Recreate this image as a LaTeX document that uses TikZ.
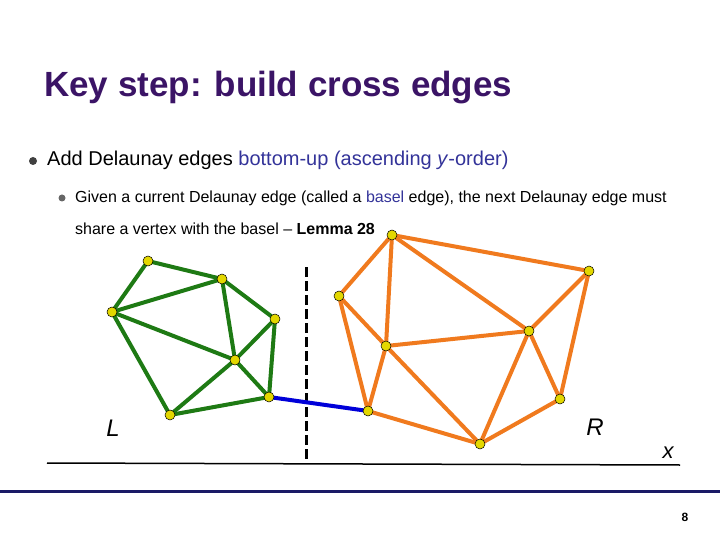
\documentclass[tikz,border=0pt]{standalone}
\usepackage{fontspec}
\setmainfont{Liberation Sans}
\begin{document}
\begin{tikzpicture}[x=1pt,y=-1pt,
 vtx/.style={circle,draw=black,fill=yellow!75!olive,inner sep=0pt,minimum size=10pt,line width=0.5pt},
 lab/.style={inner sep=0pt,anchor=west}]
\definecolor{ttl}{HTML}{3B1466}
\definecolor{navy}{HTML}{1A1A66}
\definecolor{bas}{HTML}{333399}
\definecolor{orng}{HTML}{F07A1E}
\definecolor{grn}{HTML}{1E7A14}
\tikzset{oe/.style={draw=orng,line width=4pt},ge/.style={draw=grn,line width=4pt}}
\useasboundingbox (0,0) rectangle (720,540);
\node[lab,text=ttl,font=\bfseries\fontsize{35}{40}\selectfont] (title) at (44,88) {Key step: build cross edges};
\node[circle,fill=black!75,inner sep=0pt,minimum size=8pt] (b1) at (33,161) {};
\node[lab,font=\fontsize{20}{24}\selectfont] (t1) at (47,160) {Add Delaunay edges \textcolor{bas}{bottom-up (ascending \textit{y}-order)}};
\node[circle,fill=black!60,inner sep=0pt,minimum size=7pt] (b2) at (62,198) {};
\node[lab,font=\fontsize{16}{19}\selectfont] (t2) at (75,198) {Given a current Delaunay edge (called a \textcolor{bas}{basel} edge), the next Delaunay edge must};
\node[lab,font=\fontsize{16}{19}\selectfont] (t3) at (75,229) {share a vertex with the basel -- \textbf{Lemma 28}};
\coordinate (ax1) at (47,463); \coordinate (ax2) at (680,465);
\draw[line width=1.5pt] (ax1) -- (ax2);
\node[font=\itshape\fontsize{22}{26}\selectfont] (xl) at (668,453) {x};
\coordinate (d1) at (306,267); \coordinate (d2) at (306,460);
\draw[line width=3pt,dash pattern=on 10pt off 4pt] (d1) -- (d2);
\node[font=\itshape\fontsize{24}{28}\selectfont] (L) at (113,428) {L};
\node[font=\itshape\fontsize{24}{28}\selectfont] (R) at (595,427) {R};
\coordinate (A) at (148,261); \coordinate (B) at (222,279); \coordinate (C) at (112,312);
\coordinate (D) at (275,319); \coordinate (E) at (235,360); \coordinate (F) at (269,397); \coordinate (G) at (170,415);
\foreach \u/\v in {A/B,A/C,C/B,C/E,C/G,B/E,B/D,D/E,D/F,E/F,E/G,G/F} \draw[ge] (\u)--(\v);
\coordinate (P) at (392,235); \coordinate (Q) at (589,271); \coordinate (S) at (339,296); \coordinate (T) at (529,331);
\coordinate (U) at (386,346); \coordinate (V) at (560,399); \coordinate (W) at (368,411); \coordinate (X) at (480,444);
\foreach \u/\v in {P/Q,P/S,P/U,P/T,Q/T,Q/V,S/U,S/W,U/W,U/T,U/X,W/X,T/X,T/V,V/X} \draw[oe] (\u)--(\v);
\draw[draw=blue!85!black,line width=4pt] (F) -- (W);
\foreach \n in {A,B,C,D,E,F,G,P,Q,S,T,U,V,W,X} \node[vtx] at (\n) {};
\coordinate (r1) at (0,491); \coordinate (r2) at (720,491);
\draw[navy,line width=3pt] (r1) -- (r2);
\node[font=\bfseries\fontsize{12}{14}\selectfont] (pg) at (685,517) {8};
\end{tikzpicture}
\end{document}
